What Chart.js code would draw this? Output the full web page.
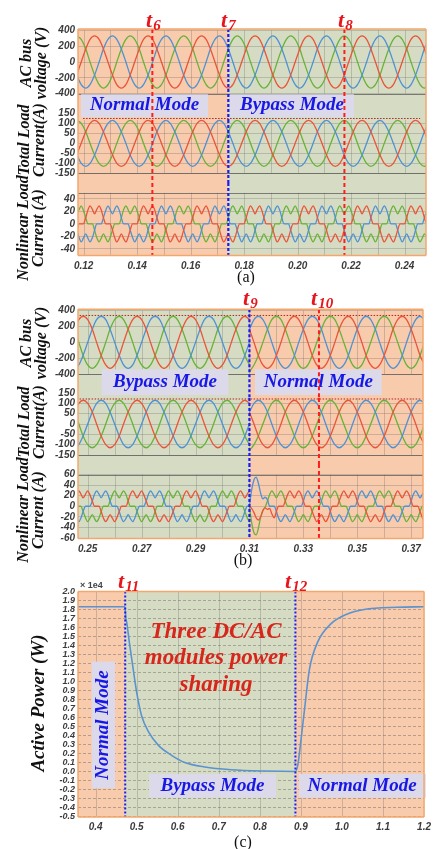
<!DOCTYPE html>
<html>
<head>
<meta charset="utf-8">
<title>Mode transition waveforms</title>
<script src="https://cdn.jsdelivr.net/npm/chart.js@4.4.1/dist/chart.umd.min.js"></script>
<style>
  html, body { margin: 0; padding: 0; background: #fff; }
  body { position: relative; width: 436px; height: 849px; overflow: hidden; }
  canvas { position: absolute; left: 0; }
  .ttl { position: absolute; transform: translate(-50%, -50%) rotate(-90deg); font: bold italic 16px "Liberation Serif", serif; line-height: 15px; text-align: center; white-space: nowrap; color: #111; }
  .tm { position: absolute; font: bold italic 22px/22px "Liberation Serif", serif; color: #e6161c; white-space: nowrap; }
  .tm span { font-size: 15px; position: relative; top: 3px; margin-left: 1px; }
  .cap { position: absolute; transform: translate(-50%, -50%); font: 16px "Liberation Serif", serif; color: #111; }
  .exp { position: absolute; font: bold 9px "Liberation Sans", sans-serif; color: #444; }
</style>
</head>
<body>
<canvas id="a1" width="436" height="99" style="top:21px"></canvas>
<canvas id="a2" width="436" height="79" style="top:104px"></canvas>
<canvas id="a3" width="436" height="90" style="top:183px"></canvas>
<canvas id="b1" width="436" height="97" style="top:301px"></canvas>
<canvas id="b2" width="436" height="80" style="top:384px"></canvas>
<canvas id="b3" width="436" height="92" style="top:464px"></canvas>
<canvas id="c1" width="436" height="264" style="top:570px"></canvas>

<div class="ttl" style="left:33px;top:63px">AC bus<br>voltage (V)</div>
<div class="ttl" style="left:31px;top:140px">Total Load<br>Current(A)</div>
<div class="ttl" style="left:30px;top:228px">Nonlinear Load<br>Current (A)</div>
<div class="ttl" style="left:33px;top:343px">AC bus<br>voltage (V)</div>
<div class="ttl" style="left:31px;top:422px">Total Load<br>Current(A)</div>
<div class="ttl" style="left:30px;top:510px">Nonlinear Load<br>Current (A)</div>
<div class="ttl" style="left:37px;top:703px;font-size:19px">Active Power (W)</div>

<div class="tm" style="left:146px;top:9px">t<span>6</span></div>
<div class="tm" style="left:221px;top:9px">t<span>7</span></div>
<div class="tm" style="left:338px;top:9px">t<span>8</span></div>
<div class="tm" style="left:243px;top:287px">t<span>9</span></div>
<div class="tm" style="left:311px;top:287px">t<span>10</span></div>
<div class="tm" style="left:118px;top:570px">t<span>11</span></div>
<div class="tm" style="left:285px;top:570px">t<span>12</span></div>
<div class="exp" style="left:80px;top:580px">× 1e4</div>

<div class="cap" style="left:246px;top:277px">(a)</div>
<div class="cap" style="left:243px;top:560px">(b)</div>
<div class="cap" style="left:243px;top:842px">(c)</div>

<script>
// ---------- (a) 0.12 - 0.25 s : normal -> bypass at t7 ----------
// sample instants, 15 degree spacing (voltage/current use every second one)
const tA = [
  0.1174,0.1183,0.1191,0.1199,0.1208,0.1216,0.1224,0.1233,0.1241,0.1249,0.1258,0.1266,
  0.1274,0.1283,0.1291,0.1299,0.1308,0.1316,0.1324,0.1333,0.1341,0.1349,0.1358,0.1366,
  0.1374,0.1383,0.1391,0.1399,0.1408,0.1416,0.1424,0.1433,0.1441,0.1449,0.1458,0.1466,
  0.1474,0.1483,0.1491,0.1499,0.1508,0.1516,0.1524,0.1533,0.1541,0.1549,0.1558,0.1566,
  0.1574,0.1583,0.1591,0.1599,0.1608,0.1616,0.1624,0.1633,0.1641,0.1649,0.1658,0.1666,
  0.1674,0.1683,0.1691,0.1699,0.1708,0.1716,0.1724,0.1733,0.1741,0.1749,0.1758,0.1766,
  0.1774,0.1783,0.1791,0.1799,0.1808,0.1816,0.1824,0.1833,0.1841,0.1849,0.1858,0.1866,
  0.1874,0.1883,0.1891,0.1899,0.1908,0.1916,0.1924,0.1933,0.1941,0.1949,0.1958,0.1966,
  0.1974,0.1983,0.1991,0.1999,0.2008,0.2016,0.2024,0.2033,0.2041,0.2049,0.2058,0.2066,
  0.2074,0.2083,0.2091,0.2099,0.2108,0.2116,0.2124,0.2133,0.2141,0.2149,0.2158,0.2166,
  0.2174,0.2183,0.2191,0.2199,0.2208,0.2216,0.2224,0.2233,0.2241,0.2249,0.2258,0.2266,
  0.2274,0.2283,0.2291,0.2299,0.2308,0.2316,0.2324,0.2333,0.2341,0.2349,0.2358,0.2366,
  0.2374,0.2383,0.2391,0.2399,0.2408,0.2416,0.2424,0.2433,0.2441,0.2449,0.2458,0.2466,
  0.2474,0.2483,0.2491,0.2499
];
// AC bus voltage (V), phases a/b/c
const vaA = [
  -165,0,165,286,330,286,165,0,-165,-286,-330,-286, -165,0,165,286,330,286,165,0,-165,-286,-330,-286,
  -165,0,165,286,330,286,165,0,-165,-286,-330,-286, -165,0,165,286,330,286,165,0,-165,-286,-330,-286,
  -165,0,165,286,330,286,165,0,-165,-286,-330,-286, -165,0,165,286,330,286,165,0,-165,-286,-330,-286,
  -165,0,165,286,330,286,165,0
];
const vbA = [
  -165,-286,-330,-286,-165,0,165,286,330,286,165,0, -165,-286,-330,-286,-165,0,165,286,330,286,165,0,
  -165,-286,-330,-286,-165,0,165,286,330,286,165,0, -165,-286,-330,-286,-165,0,165,286,330,286,165,0,
  -165,-286,-330,-286,-165,0,165,286,330,286,165,0, -165,-286,-330,-286,-165,0,165,286,330,286,165,0,
  -165,-286,-330,-286,-165,0,165,286
];
const vcA = [
  330,286,165,0,-165,-286,-330,-286,-165,0,165,286, 330,286,165,0,-165,-286,-330,-286,-165,0,165,286,
  330,286,165,0,-165,-286,-330,-286,-165,0,165,286, 330,286,165,0,-165,-286,-330,-286,-165,0,165,286,
  330,286,165,0,-165,-286,-330,-286,-165,0,165,286, 330,286,165,0,-165,-286,-330,-286,-165,0,165,286,
  330,286,165,0,-165,-286,-330,-286
];
// total load current (A)
const iaA = [
  -58,0,58,100,115,100,58,0,-58,-100,-115,-100, -58,0,58,100,115,100,58,0,-58,-100,-115,-100,
  -58,0,58,100,115,100,58,0,-58,-100,-115,-100, -58,0,58,100,115,100,58,0,-58,-100,-115,-100,
  -58,0,58,100,115,100,58,0,-58,-100,-115,-100, -58,0,58,100,115,100,58,0,-58,-100,-115,-100,
  -58,0,58,100,115,100,58,0
];
const ibA = [
  -58,-100,-115,-100,-58,0,58,100,115,100,58,0, -58,-100,-115,-100,-58,0,58,100,115,100,58,0,
  -58,-100,-115,-100,-58,0,58,100,115,100,58,0, -58,-100,-115,-100,-58,0,58,100,115,100,58,0,
  -58,-100,-115,-100,-58,0,58,100,115,100,58,0, -58,-100,-115,-100,-58,0,58,100,115,100,58,0,
  -58,-100,-115,-100,-58,0,58,100
];
const icA = [
  115,100,58,0,-58,-100,-115,-100,-58,0,58,100, 115,100,58,0,-58,-100,-115,-100,-58,0,58,100,
  115,100,58,0,-58,-100,-115,-100,-58,0,58,100, 115,100,58,0,-58,-100,-115,-100,-58,0,58,100,
  115,100,58,0,-58,-100,-115,-100,-58,0,58,100, 115,100,58,0,-58,-100,-115,-100,-58,0,58,100,
  115,100,58,0,-58,-100,-115,-100
];
// nonlinear (rectifier) load current (A)
const nlaA = [
  -10,0,0,0,10,22,29,23,16,23,29,22,10,0,0,0,-10,-22,-29,-23,-16,-23,-29,-22,
  -10,0,0,0,10,22,29,23,16,23,29,22,10,0,0,0,-10,-22,-29,-23,-16,-23,-29,-22,
  -10,0,0,0,10,22,29,23,16,23,29,22,10,0,0,0,-10,-22,-29,-23,-16,-23,-29,-22,
  -10,0,0,0,10,22,29,23,16,23,29,22,10,0,0,0,-10,-22,-29,-23,-16,-23,-29,-22,
  -10,0,0,0,10,22,29,23,16,23,29,22,10,0,0,0,-10,-22,-29,-23,-16,-23,-29,-22,
  -10,0,0,0,10,22,29,23,16,23,29,22,10,0,0,0,-10,-22,-29,-23,-16,-23,-29,-22,
  -10,0,0,0,10,22,29,23,16,23,29,22,10,0,0,0
];
const nlbA = [
  -10,-22,-29,-23,-16,-23,-29,-22,-10,0,0,0,10,22,29,23,16,23,29,22,10,0,0,0,
  -10,-22,-29,-23,-16,-23,-29,-22,-10,0,0,0,10,22,29,23,16,23,29,22,10,0,0,0,
  -10,-22,-29,-23,-16,-23,-29,-22,-10,0,0,0,10,22,29,23,16,23,29,22,10,0,0,0,
  -10,-22,-29,-23,-16,-23,-29,-22,-10,0,0,0,10,22,29,23,16,23,29,22,10,0,0,0,
  -10,-22,-29,-23,-16,-23,-29,-22,-10,0,0,0,10,22,29,23,16,23,29,22,10,0,0,0,
  -10,-22,-29,-23,-16,-23,-29,-22,-10,0,0,0,10,22,29,23,16,23,29,22,10,0,0,0,
  -10,-22,-29,-23,-16,-23,-29,-22,-10,0,0,0,10,22,29,23
];
const nlcA = [
  16,23,29,22,10,0,0,0,-10,-22,-29,-23,-16,-23,-29,-22,-10,0,0,0,10,22,29,23,
  16,23,29,22,10,0,0,0,-10,-22,-29,-23,-16,-23,-29,-22,-10,0,0,0,10,22,29,23,
  16,23,29,22,10,0,0,0,-10,-22,-29,-23,-16,-23,-29,-22,-10,0,0,0,10,22,29,23,
  16,23,29,22,10,0,0,0,-10,-22,-29,-23,-16,-23,-29,-22,-10,0,0,0,10,22,29,23,
  16,23,29,22,10,0,0,0,-10,-22,-29,-23,-16,-23,-29,-22,-10,0,0,0,10,22,29,23,
  16,23,29,22,10,0,0,0,-10,-22,-29,-23,-16,-23,-29,-22,-10,0,0,0,10,22,29,23,
  16,23,29,22,10,0,0,0,-10,-22,-29,-23,-16,-23,-29,-22
];
const eventsA = [0.1457, 0.1741, 0.2175];   // t6, t7, t8
const xRangeA = [0.1179, 0.2480];
const xLabelsA = [0.12, 0.14, 0.16, 0.18, 0.20, 0.22, 0.24];
const xGridA = [0.12, 0.13, 0.14, 0.15, 0.16, 0.17, 0.18, 0.19, 0.20, 0.21, 0.22, 0.23, 0.24];

// ---------- (b) 0.25 - 0.37 s : bypass -> normal at t9 ----------
const tB1 = [
  0.2450,0.2458,0.2467,0.2475,0.2483,0.2492,0.2500,0.2508,0.2517,0.2525,0.2533,0.2542,
  0.2550,0.2558,0.2567,0.2575,0.2583,0.2592,0.2600,0.2608,0.2617,0.2625,0.2633,0.2642,
  0.2650,0.2658,0.2667,0.2675,0.2683,0.2692,0.2700,0.2708,0.2717,0.2725,0.2733,0.2742,
  0.2750,0.2758,0.2767,0.2775,0.2783,0.2792,0.2800,0.2808,0.2817,0.2825,0.2833,0.2842,
  0.2850,0.2858,0.2867,0.2875,0.2883,0.2892,0.2900,0.2908,0.2917,0.2925,0.2933,0.2942,
  0.2950,0.2958,0.2967,0.2975,0.2983,0.2992,0.3000,0.3008,0.3017,0.3025,0.3033,0.3042,
  0.3050,0.3058,0.3067,0.3075,0.3083,0.3092,0.3100
];
const tB2 = [
  0.3100,0.3108,0.3117,0.3125,0.3133,0.3142,0.3150,0.3158,0.3167,0.3175,0.3183,0.3192,
  0.3200,0.3208,0.3217,0.3225,0.3233,0.3242,0.3250,0.3258,0.3267,0.3275,0.3283,0.3292,
  0.3300,0.3308,0.3317,0.3325,0.3333,0.3342,0.3350,0.3358,0.3367,0.3375,0.3383,0.3392,
  0.3400,0.3408,0.3417,0.3425,0.3433,0.3442,0.3450,0.3458,0.3467,0.3475,0.3483,0.3492,
  0.3500,0.3508,0.3517,0.3525,0.3533,0.3542,0.3550,0.3558,0.3567,0.3575,0.3583,0.3592,
  0.3600,0.3608,0.3617,0.3625,0.3633,0.3642,0.3650,0.3658,0.3667,0.3675,0.3683,0.3692,
  0.3700,0.3708,0.3717,0.3725,0.3733,0.3742,0.3750
];
const vaB1 = [
  165,286,330,286,165,0,-165,-286,-330,-286,-165,0, 165,286,330,286,165,0,-165,-286,-330,-286,-165,0,
  165,286,330,286,165,0,-165,-286,-330,-286,-165,0, 165,286,330,286
];
const vbB1 = [
  -330,-286,-165,0,165,286,330,286,165,0,-165,-286, -330,-286,-165,0,165,286,330,286,165,0,-165,-286,
  -330,-286,-165,0,165,286,330,286,165,0,-165,-286, -330,-286,-165,0
];
const vcB1 = [
  165,0,-165,-286,-330,-286,-165,0,165,286,330,286, 165,0,-165,-286,-330,-286,-165,0,165,286,330,286,
  165,0,-165,-286,-330,-286,-165,0,165,286,330,286, 165,0,-165,-286
];
const vaB2 = [
  165,0,-165,-286,-330,-286,-165,0,165,286,330,286, 165,0,-165,-286,-330,-286,-165,0,165,286,330,286,
  165,0,-165,-286,-330,-286,-165,0,165,286,330,286, 165,0,-165,-286
];
const vbB2 = [
  165,286,330,286,165,0,-165,-286,-330,-286,-165,0, 165,286,330,286,165,0,-165,-286,-330,-286,-165,0,
  165,286,330,286,165,0,-165,-286,-330,-286,-165,0, 165,286,330,286
];
const vcB2 = [
  -370,-286,-165,0,165,286,330,286,165,0,-165,-286, -330,-286,-165,0,165,286,330,286,165,0,-165,-286,
  -330,-286,-165,0,165,286,330,286,165,0,-165,-286, -330,-286,-165,0
];
const iaB1 = [
  58,100,115,100,58,0,-58,-100,-115,-100,-58,0, 58,100,115,100,58,0,-58,-100,-115,-100,-58,0,
  58,100,115,100,58,0,-58,-100,-115,-100,-58,0, 58,100,115,100
];
const ibB1 = [
  -115,-100,-58,0,58,100,115,100,58,0,-58,-100, -115,-100,-58,0,58,100,115,100,58,0,-58,-100,
  -115,-100,-58,0,58,100,115,100,58,0,-58,-100, -115,-100,-58,0
];
const icB1 = [
  58,0,-58,-100,-115,-100,-58,0,58,100,115,100, 58,0,-58,-100,-115,-100,-58,0,58,100,115,100,
  58,0,-58,-100,-115,-100,-58,0,58,100,115,100, 58,0,-58,-100
];
const iaB2 = [
  58,0,-58,-100,-115,-100,-58,0,58,100,115,100, 58,0,-58,-100,-115,-100,-58,0,58,100,115,100,
  58,0,-58,-100,-115,-100,-58,0,58,100,115,100, 58,0,-58,-100
];
const ibB2 = [
  58,100,115,100,58,0,-58,-100,-115,-100,-58,0, 58,100,115,100,58,0,-58,-100,-115,-100,-58,0,
  58,100,115,100,58,0,-58,-100,-115,-100,-58,0, 58,100,115,100
];
const icB2 = [
  -128,-100,-58,0,58,100,115,100,58,0,-58,-100, -115,-100,-58,0,58,100,115,100,58,0,-58,-100,
  -115,-100,-58,0,58,100,115,100,58,0,-58,-100, -115,-100,-58,0
];
const nlaB1 = [
  10,22,29,23,16,23,29,22,10,0,0,0,-10,-22,-29,-23,-16,-23,-29,-22,-10,0,0,0,
  10,22,29,23,16,23,29,22,10,0,0,0,-10,-22,-29,-23,-16,-23,-29,-22,-10,0,0,0,
  10,22,29,23,16,23,29,22,10,0,0,0,-10,-22,-29,-23,-16,-23,-29,-22,-10,0,0,0,
  10,22,29,23,16,23,29
];
const nlbB1 = [
  -16,-23,-29,-22,-10,0,0,0,10,22,29,23,16,23,29,22,10,0,0,0,-10,-22,-29,-23,
  -16,-23,-29,-22,-10,0,0,0,10,22,29,23,16,23,29,22,10,0,0,0,-10,-22,-29,-23,
  -16,-23,-29,-22,-10,0,0,0,10,22,29,23,16,23,29,22,10,0,0,0,-10,-22,-29,-23,
  -16,-23,-29,-22,-10,0,0
];
const nlcB1 = [
  10,0,0,0,-10,-22,-29,-23,-16,-23,-29,-22,-10,0,0,0,10,22,29,23,16,23,29,22,
  10,0,0,0,-10,-22,-29,-23,-16,-23,-29,-22,-10,0,0,0,10,22,29,23,16,23,29,22,
  10,0,0,0,-10,-22,-29,-23,-16,-23,-29,-22,-10,0,0,0,10,22,29,23,16,23,29,22,
  10,0,0,0,-10,-22,-29
];
const nlaB2 = [
  0,-4,-12,-22,-26,-20,-8,-3,-6,-4,-14,-22,-10,0,0,0,10,22,29,23,16,23,29,22,
  10,0,0,0,-10,-22,-29,-23,-16,-23,-29,-22,-10,0,0,0,10,22,29,23,16,23,29,22,
  10,0,0,0,-10,-22,-29,-23,-16,-23,-29,-22,-10,0,0,0,10,22,29,23,16,23,29,22,
  10,0,0,0,-10,-22,-29
];
const nlbB2 = [
  0,30,50,55,44,24,14,17,12,0,0,0,-10,-22,-29,-23,-16,-23,-29,-22,-10,0,0,0,
  10,22,29,23,16,23,29,22,10,0,0,0,-10,-22,-29,-23,-16,-23,-29,-22,-10,0,0,0,
  10,22,29,23,16,23,29,22,10,0,0,0,-10,-22,-29,-23,-16,-23,-29,-22,-10,0,0,0,
  10,22,29,23,16,23,29
];
const nlcB2 = [
  0,-30,-50,-54,-42,-20,-8,-2,10,22,29,23,16,23,29,22,10,0,0,0,-10,-22,-29,-23,
  -16,-23,-29,-22,-10,0,0,0,10,22,29,23,16,23,29,22,10,0,0,0,-10,-22,-29,-23,
  -16,-23,-29,-22,-10,0,0,0,10,22,29,23,16,23,29,22,10,0,0,0,-10,-22,-29,-23,
  -16,-23,-29,-22,-10,0,0
];
const eventsB = [0.3100, 0.3358];           // t9, t10
const xRangeB = [0.2464, 0.3744];
const xLabelsB = [0.25, 0.27, 0.29, 0.31, 0.33, 0.35, 0.37];
const xGridB = [0.25, 0.26, 0.27, 0.28, 0.29, 0.30, 0.31, 0.32, 0.33, 0.34, 0.35, 0.36, 0.37];

// ---------- (c) active power, 0.35 - 1.2 s ----------
const pT = [0.350, 0.4715, 0.4735, 0.476, 0.482, 0.488, 0.494, 0.500, 0.512, 0.529, 0.553, 0.585, 0.617,
            0.666, 0.730, 0.811, 0.8867, 0.8924, 0.9005, 0.9086, 0.921, 0.941, 0.973, 1.013, 1.054, 1.135, 1.200];
const pW = [18300, 18300, 17100, 16500, 14400, 12500, 10600, 8800, 6200, 4400, 2900, 1800, 1000,
            500, 200, 50, 0, 700, 3600, 6800, 11400, 14400, 16400, 17500, 18000, 18250, 18300];
const eventsC = [0.4721, 0.8867];           // t11, t12
const xRangeC = [0.3571, 1.2];
const xLabelsC = [0.4, 0.5, 0.6, 0.7, 0.8, 0.9, 1.0, 1.1, 1.2];
const xGridC = [0.4, 0.5, 0.6, 0.7, 0.8, 0.9, 1.0, 1.1];
const pTicks = [-5000, -4000, -3000, -2000, -1000, 0, 1000, 2000, 3000, 4000, 5000, 6000, 7000,
                8000, 9000, 10000, 11000, 12000, 13000, 14000, 15000, 16000, 17000, 18000, 19000, 20000];

// reference levels (dotted)
const refCurA = 124, refVoltB = 340, refCurB = 121;

// ---------- styling ----------
const ORANGE = '#f8cbad', GREEN = '#d6dcc3', FRAME = '#f2a86c', LAV = '#dcd9ea';
const RED = '#e8553b', BLUE = '#4d92d2', GRN = '#68b23a';
const MRED = '#ff1c1c', MBLUE = '#1c1cf2';
const GRID = 'rgba(105,105,105,0.30)';
const MODE_FONT = 'bold italic 19px "Liberation Serif", serif';
const MODE_BLUE = '#1717e6';
const tickFont = {family: '"Liberation Sans", Arial, sans-serif', size: 10, weight: 'bold', style: 'italic'};

// shaded mode regions, event markers, frame and in-plot labels
const decor = {
  id: 'decor',
  beforeDraw(chart, args, o) {
    const {ctx, chartArea: a} = chart, x = chart.scales.x;
    const top = o.band[0] - o.offset, bottom = o.band[1] - o.offset;
    ctx.save();
    o.regions.forEach(r => {
      const x0 = Math.max(a.left, x.getPixelForValue(r.from));
      const x1 = Math.min(a.right, x.getPixelForValue(r.to));
      if (x1 > x0) { ctx.fillStyle = r.color; ctx.fillRect(x0, top, x1 - x0, bottom - top); }
    });
    const g0 = Math.max(top, a.top), g1 = Math.min(bottom, a.bottom);
    ctx.strokeStyle = GRID; ctx.lineWidth = 1;
    o.gridX.forEach(v => {
      const px = Math.round(x.getPixelForValue(v)) + 0.5;
      ctx.beginPath(); ctx.moveTo(px, g0); ctx.lineTo(px, g1); ctx.stroke();
    });
    ctx.restore();
  },
  afterDatasetsDraw(chart, args, o) {
    const {ctx, chartArea: a} = chart, x = chart.scales.x;
    const top = o.band[0] - o.offset, bottom = o.band[1] - o.offset;
    ctx.save();
    ctx.strokeStyle = 'rgba(90,90,90,0.75)'; ctx.lineWidth = 1;
    (o.edges || []).forEach(e => {
      const y = Math.round(e === 'top' ? a.top : a.bottom) + 0.5;
      ctx.beginPath(); ctx.moveTo(a.left, y); ctx.lineTo(a.right, y); ctx.stroke();
    });
    (o.labels || []).forEach(L => {
      if (L.box) { ctx.fillStyle = LAV; ctx.fillRect(L.box[0], L.box[1] - o.offset, L.box[2], L.box[3]); }
      ctx.save();
      ctx.translate(L.cx, L.cy - o.offset);
      if (L.rot) ctx.rotate(-Math.PI / 2);
      ctx.font = L.font || MODE_FONT;
      ctx.fillStyle = L.color || MODE_BLUE;
      ctx.textAlign = 'center'; ctx.textBaseline = 'middle';
      ctx.fillText(L.text, 0, 0);
      ctx.restore();
    });
    o.markers.forEach(m => {
      const px = x.getPixelForValue(m.t);
      ctx.strokeStyle = m.color; ctx.lineWidth = m.width; ctx.setLineDash(m.dash);
      ctx.beginPath(); ctx.moveTo(px, top); ctx.lineTo(px, bottom); ctx.stroke();
    });
    ctx.setLineDash([]);
    ctx.strokeStyle = FRAME; ctx.lineWidth = 1.5;
    ctx.beginPath();
    ctx.moveTo(a.left, top); ctx.lineTo(a.left, bottom);
    ctx.moveTo(a.right, top); ctx.lineTo(a.right, bottom);
    if (o.frameTop) { ctx.moveTo(a.left, top); ctx.lineTo(a.right, top); }
    if (o.frameBottom) { ctx.moveTo(a.left, bottom); ctx.lineTo(a.right, bottom); }
    ctx.stroke();
    ctx.restore();
  }
};

const series = (t, v) => v.map((y, i) => ({x: t[i], y}));
const even = t => t.filter((_, i) => i % 2 === 0);
const trace = (data, color) => ({data, borderColor: color, borderWidth: 1.3, pointRadius: 0, fill: false, cubicInterpolationMode: 'monotone'});
const guide = (x0, x1, y) => ({data: [{x: x0, y}, {x: x1, y}], borderColor: '#b3261e', borderWidth: 1, borderDash: [1.5, 1.5], pointRadius: 0});

function yAxis(min, max, ticks, o = {}) {
  return {
    type: 'linear', min, max,
    afterFit: s => { s.width = 78; },
    afterBuildTicks: s => { s.ticks = ticks.map(v => ({value: v})); },
    border: {display: false, dash: o.dash || []},
    grid: {drawTicks: false, color: c => (c.tick && c.tick.value === o.hide) ? 'rgba(0,0,0,0)' : (o.grid || GRID)},
    ticks: {font: o.font || tickFont, color: '#3b3b3b', padding: 3, autoSkip: false, callback: o.fmt || (v => String(v))}
  };
}
function xHidden(r) { return {type: 'linear', min: r[0], max: r[1], display: false}; }
function xShown(r, labels, digits, h) {
  return {
    type: 'linear', min: r[0], max: r[1],
    afterFit: s => { s.height = h; },
    afterBuildTicks: s => { s.ticks = labels.map(v => ({value: v})); },
    grid: {display: false, drawTicks: false}, border: {display: false},
    ticks: {font: tickFont, color: '#3b3b3b', padding: 5, maxRotation: 0, autoSkip: false, callback: v => v.toFixed(digits)}
  };
}
function markers(ts, colors) {
  return ts.map((t, i) => colors[i] === 'r'
    ? {t, color: MRED, width: 2, dash: [4, 3]}
    : {t, color: MBLUE, width: 2.2, dash: [3, 2]});
}
function panel(id, o) {
  return new Chart(document.getElementById(id), {
    type: 'line',
    data: {datasets: o.datasets},
    options: {
      responsive: false, animation: false, events: [],
      layout: {padding: {left: 0, right: o.right, top: o.pad[0], bottom: o.pad[1]}},
      plugins: {legend: {display: false}, tooltip: {enabled: false}, decor: o.decor},
      scales: {x: o.x, y: o.y}
    },
    plugins: [decor]
  });
}

// ---------- panel (a) ----------
const tA2 = even(tA);
const regionsA = [{from: 0.10, to: eventsA[1], color: ORANGE}, {from: eventsA[1], to: 0.30, color: GREEN}];
const markA = markers(eventsA, ['r', 'b', 'r']);

panel('a1', {
  right: 10, pad: [9.4, 26.4], x: xHidden(xRangeA),
  y: yAxis(-400, 400, [-400, -200, 0, 200, 400]),
  datasets: [trace(series(tA2, vaA), RED), trace(series(tA2, vbA), BLUE), trace(series(tA2, vcA), GRN)],
  decor: {offset: 21, band: [29, 120], regions: regionsA, gridX: xGridA, markers: markA, edges: ['bottom'], frameTop: true,
    labels: [
      {box: [81, 94.3, 127, 23], cx: 144.5, cy: 105, text: 'Normal Mode'},
      {box: [230, 94.3, 124, 23], cx: 292, cy: 105, text: 'Bypass Mode'}
    ]}
});
panel('a2', {
  right: 10, pad: [9.3, 9.7], x: xHidden(xRangeA),
  y: yAxis(-150, 150, [-150, -100, -50, 0, 50, 100, 150], {hide: 150}),
  datasets: [trace(series(tA2, iaA), RED), trace(series(tA2, ibA), BLUE), trace(series(tA2, icA), GRN),
             guide(0.1198, 0.2458, refCurA)],
  decor: {offset: 104, band: [120, 183], regions: regionsA, gridX: xGridA, markers: markA, edges: ['bottom']}
});
panel('a3', {
  right: 10, pad: [9.7, 0], x: xShown(xRangeA, xLabelsA, 2, 18),
  y: yAxis(-50, 50, [-40, -20, 0, 20, 40]),
  datasets: [trace(series(tA, nlaA), RED), trace(series(tA, nlbA), BLUE), trace(series(tA, nlcA), GRN)],
  decor: {offset: 183, band: [183, 255.5], regions: regionsA, gridX: xGridA, markers: markA, edges: ['top'], frameBottom: true}
});

// ---------- panel (b) ----------
const tB1h = even(tB1), tB2h = even(tB2);
const regionsB = [{from: 0.20, to: eventsB[0], color: GREEN}, {from: eventsB[0], to: 0.40, color: ORANGE}];
const markB = markers(eventsB, ['b', 'r']);

panel('b1', {
  right: 13, pad: [9.7, 24], x: xHidden(xRangeB),
  y: yAxis(-400, 400, [-400, -200, 0, 200, 400]),
  datasets: [trace(series(tB1h, vaB1), RED), trace(series(tB1h, vbB1), BLUE), trace(series(tB1h, vcB1), GRN),
             trace(series(tB2h, vaB2), RED), trace(series(tB2h, vbB2), BLUE), trace(series(tB2h, vcB2), GRN),
             guide(0.2470, 0.3736, refVoltB)],
  decor: {offset: 301, band: [309.3, 398], regions: regionsB, gridX: xGridB, markers: markB, edges: ['bottom'], frameTop: true,
    labels: [
      {box: [101.7, 369.3, 126.6, 25.7], cx: 165, cy: 382, text: 'Bypass Mode'},
      {box: [255, 369.3, 126.7, 25.7], cx: 318.3, cy: 382, text: 'Normal Mode'}
    ]}
});
panel('b2', {
  right: 13, pad: [9, 8.5], x: xHidden(xRangeB),
  y: yAxis(-150, 150, [-150, -100, -50, 0, 50, 100, 150], {hide: 150}),
  datasets: [trace(series(tB1h, iaB1), RED), trace(series(tB1h, ibB1), BLUE), trace(series(tB1h, icB1), GRN),
             trace(series(tB2h, iaB2), RED), trace(series(tB2h, ibB2), BLUE), trace(series(tB2h, icB2), GRN),
             guide(0.2470, 0.3736, refCurB)],
  decor: {offset: 384, band: [398, 464], regions: regionsB, gridX: xGridB, markers: markB, edges: ['bottom']}
});
panel('b3', {
  right: 13, pad: [10.5, 0], x: xShown(xRangeB, xLabelsB, 2, 18),
  y: yAxis(-60, 60, [-60, -40, -20, 0, 20, 40, 60]),
  datasets: [trace(series(tB1, nlaB1), RED), trace(series(tB1, nlbB1), BLUE), trace(series(tB1, nlcB1), GRN),
             trace(series(tB2, nlaB2), RED), trace(series(tB2, nlbB2), BLUE), trace(series(tB2, nlcB2), GRN)],
  decor: {offset: 464, band: [464, 538.5], regions: regionsB, gridX: xGridB, markers: markB, edges: ['top'], frameBottom: true}
});

// ---------- panel (c) ----------
panel('c1', {
  right: 9.3, pad: [21.5, 0], x: xShown(xRangeC, xLabelsC, 1, 17.5),
  y: yAxis(-5000, 20000, pTicks, {
    dash: [3, 2], grid: 'rgba(90,90,90,0.42)',
    font: {family: '"Liberation Sans", Arial, sans-serif', size: 9, weight: 'bold', style: 'italic'},
    fmt: v => (v / 1e4).toFixed(1)
  }),
  datasets: [{...trace(series(pT, pW), '#5b93cf'), borderWidth: 1.6}],
  decor: {offset: 570, band: [591.5, 817], gridX: xGridC, frameTop: true, frameBottom: true,
    regions: [{from: 0.3, to: eventsC[0], color: ORANGE}, {from: eventsC[0], to: eventsC[1], color: GREEN}, {from: eventsC[1], to: 1.3, color: ORANGE}],
    markers: eventsC.map(t => ({t, color: MBLUE, width: 2, dash: [2, 2]})),
    labels: [
      {box: [91.7, 661.7, 23.3, 126.6], cx: 103.5, cy: 725, text: 'Normal Mode', rot: true},
      {box: [149, 774, 127, 23.7], cx: 212.5, cy: 786, text: 'Bypass Mode'},
      {box: [299, 774, 126.7, 23.7], cx: 362, cy: 786, text: 'Normal Mode'},
      {cx: 216, cy: 632, text: 'Three DC/AC', color: '#d7261c', font: 'bold italic 23px "Liberation Serif", serif'},
      {cx: 216, cy: 658.5, text: 'modules power', color: '#d7261c', font: 'bold italic 23px "Liberation Serif", serif'},
      {cx: 216, cy: 685, text: 'sharing', color: '#d7261c', font: 'bold italic 23px "Liberation Serif", serif'}
    ]}
});
</script>
</body>
</html>
